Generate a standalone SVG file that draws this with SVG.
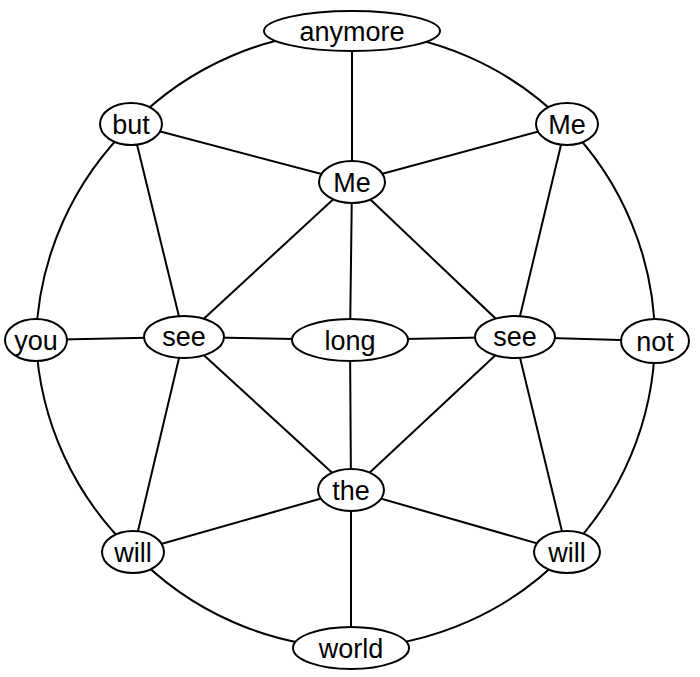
<svg xmlns="http://www.w3.org/2000/svg" width="700" height="677" viewBox="0 0 700 677">
<style>
.e{stroke:#000;stroke-width:2;fill:none}
.n ellipse{fill:#fff;stroke:#000;stroke-width:2}
.n text{font-family:"Liberation Sans",Arial,sans-serif;font-size:27px;text-anchor:middle;dominant-baseline:central;fill:#000}
</style>
<rect width="700" height="677" fill="#fff"/>
<g id="edges" class="e">
<path d="M352,31 A310,310 0 0 1 566,124 A310,310 0 0 1 655,341 A310,310 0 0 1 567,552 A310,310 0 0 1 351,648 A310,310 0 0 1 133,552 A310,310 0 0 1 36,340 A310,310 0 0 1 132,124 A310,310 0 0 1 352,31"/>
<line x1="352" y1="31" x2="352" y2="182"/>
<line x1="132" y1="124" x2="352" y2="182"/>
<line x1="566" y1="124" x2="352" y2="182"/>
<line x1="132" y1="124" x2="184" y2="337"/>
<line x1="566" y1="124" x2="515" y2="337"/>
<line x1="352" y1="182" x2="184" y2="337"/>
<line x1="352" y1="182" x2="350" y2="340"/>
<line x1="352" y1="182" x2="515" y2="337"/>
<line x1="36" y1="340" x2="184" y2="337"/>
<line x1="184" y1="337" x2="350" y2="340"/>
<line x1="350" y1="340" x2="515" y2="337"/>
<line x1="515" y1="337" x2="655" y2="341"/>
<line x1="184" y1="337" x2="351" y2="490"/>
<line x1="350" y1="340" x2="351" y2="490"/>
<line x1="515" y1="337" x2="351" y2="490"/>
<line x1="184" y1="337" x2="133" y2="552"/>
<line x1="515" y1="337" x2="567" y2="552"/>
<line x1="351" y1="490" x2="133" y2="552"/>
<line x1="351" y1="490" x2="567" y2="552"/>
<line x1="351" y1="490" x2="351" y2="648"/>
</g>
<g id="anymore" class="n"><ellipse cx="352" cy="31" rx="88" ry="20"/><text x="352" y="32">anymore</text></g>
<g id="but" class="n"><ellipse cx="131" cy="124" rx="31" ry="21"/><text x="131" y="125">but</text></g>
<g id="me_tr" class="n"><ellipse cx="567" cy="124" rx="31" ry="21"/><text x="567" y="125">Me</text></g>
<g id="me_c" class="n"><ellipse cx="352" cy="182" rx="33" ry="21"/><text x="352" y="183">Me</text></g>
<g id="you" class="n"><ellipse cx="36" cy="340" rx="31" ry="21"/><text x="36" y="341">you</text></g>
<g id="see_l" class="n"><ellipse cx="184" cy="337" rx="40" ry="21"/><text x="184" y="337">see</text></g>
<g id="long" class="n"><ellipse cx="350" cy="340" rx="58" ry="21"/><text x="350" y="341">long</text></g>
<g id="see_r" class="n"><ellipse cx="515" cy="337" rx="40" ry="21"/><text x="515" y="337">see</text></g>
<g id="not" class="n"><ellipse cx="655" cy="341" rx="34" ry="22"/><text x="655" y="342">not</text></g>
<g id="the" class="n"><ellipse cx="351" cy="490" rx="33" ry="21"/><text x="351" y="491">the</text></g>
<g id="will_l" class="n"><ellipse cx="133" cy="552" rx="31" ry="21"/><text x="133" y="553">will</text></g>
<g id="will_r" class="n"><ellipse cx="567" cy="552" rx="33" ry="21"/><text x="567" y="553">will</text></g>
<g id="world" class="n"><ellipse cx="351" cy="648" rx="58" ry="21"/><text x="351" y="649">world</text></g>
</svg>
